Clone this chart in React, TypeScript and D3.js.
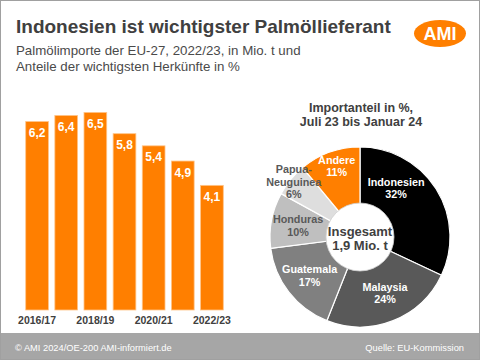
import React from "react";
import * as d3 from "d3";

const years = ["2016/17", "2017/18", "2018/19", "2019/20", "2020/21", "2021/22", "2022/23"];
const imports = [6.2, 6.4, 6.5, 5.8, 5.4, 4.9, 4.1];
const tickYears = ["2016/17", "2018/19", "2020/21", "2022/23"];

const origins = ["Indonesien", "Malaysia", "Guatemala", "Honduras", "Papua-\nNeuguinea", "Andere"];
const shares = [32, 24, 17, 10, 6, 11];
const sliceColors = ["#000000", "#595959", "#808080", "#bfbfbf", "#dedede", "#ff7f00"];
const labelColors = ["#ffffff", "#ffffff", "#ffffff", "#595959", "#595959", "#ffffff"];
const labelOffsets: [number, number][] = [[-14.5, -17], [3, 0], [-3, 1.5], [-3, -0.5], [-20, -17], [-3, -14.5]];

const FONT = "'Liberation Sans', Arial, sans-serif";
const W = 480, H = 360;
const ORANGE = "#ff7f00";
const TXT = "#404040";

export default function App() {
  const x = d3.scaleBand<string>().domain(years).range([22.5, 226.5]).paddingInner(0.22).paddingOuter(0.11);
  const y = d3.scaleLinear().domain([0, 7]).range([310, 310 - 7 * 30.4]);

  const cx = 360, cy = 237, rOuter = 90, rInner = 34;
  const pie = d3.pie<number>().sort(null).value((d) => d);
  const arcs = pie(shares);
  const arc = d3.arc<d3.PieArcDatum<number>>().innerRadius(0).outerRadius(rOuter);
  const labelArc = d3.arc<d3.PieArcDatum<number>>().innerRadius(60).outerRadius(60);

  return (
    <svg width={W} height={H} style={{ position: "absolute", left: 0, top: 0 }} fontFamily={FONT}>
      <rect x={0} y={0} width={W} height={H} fill="#ffffff" />
      {/* Title */}
      <text x={16} y={33} fontSize={19} fontWeight="bold" fill={TXT}>Indonesien ist wichtigster Palmöllieferant</text>
      <text x={16} y={55} fontSize={13.3} fill="#4a4a4a">Palmölimporte der EU-27, 2022/23, in Mio. t und</text>
      <text x={16} y={71} fontSize={13.3} fill="#4a4a4a">Anteile der wichtigsten Herkünfte in %</text>
      {/* Logo */}
      <ellipse cx={440} cy={33.5} rx={26} ry={13.5} fill={ORANGE} />
      <text x={440} y={40} fontSize={18} fontWeight="bold" fill="#ffffff" textAnchor="middle">AMI</text>

      {/* Bars */}
      {years.map((yr, i) => (
        <g key={yr}>
          <rect x={x(yr)} y={y(imports[i])} width={x.bandwidth()} height={y(0) - y(imports[i])} fill={ORANGE} stroke="#ffc58a" strokeWidth={0.8} />
          <text x={(x(yr) as number) + x.bandwidth() / 2} y={y(imports[i]) + 15.5} fontSize={12} fontWeight="bold" fill="#ffffff" textAnchor="middle">
            {imports[i].toFixed(1).replace(".", ",")}
          </text>
        </g>
      ))}
      {tickYears.map((yr) => (
        <text key={yr} x={(x(yr) as number) + x.bandwidth() / 2} y={323.5} fontSize={10.5} fontWeight="bold" fill={TXT} textAnchor="middle">{yr}</text>
      ))}

      {/* Pie title */}
      <text x={361} y={111.5} fontSize={12.5} fontWeight="bold" fill={TXT} textAnchor="middle">Importanteil in %,</text>
      <text x={361} y={125.5} fontSize={12.5} fontWeight="bold" fill={TXT} textAnchor="middle">Juli 23 bis Januar 24</text>

      {/* Pie */}
      <g transform={`translate(${cx},${cy})`}>
        {arcs.map((a, i) => (
          <path key={i} d={arc(a) as string} fill={sliceColors[i]} stroke="#ffffff" strokeWidth={1.2} />
        ))}
        <circle r={rInner} fill="#ffffff" stroke="#d0d0d0" strokeWidth={0.8} />
        <text y={-1} fontSize={13} fill={TXT} textAnchor="middle" fontWeight={600}>Insgesamt</text>
        <text y={12.5} fontSize={13} fill={TXT} textAnchor="middle" fontWeight={600}>1,9 Mio. t</text>
        {arcs.map((a, i) => {
          const [lx, ly] = labelArc.centroid(a);
          const lines = origins[i].split("\n").concat([`${shares[i]}%`]);
          const px = lx + labelOffsets[i][0];
          const py = ly + labelOffsets[i][1];
          const lh = 12.5;
          const start = py - ((lines.length - 1) * lh) / 2 + 4;
          return (
            <text key={i} fontSize={10.8} fontWeight="bold" fill={labelColors[i]} textAnchor="middle">
              {lines.map((t, j) => (
                <tspan key={j} x={px} y={start + j * lh}>{t}</tspan>
              ))}
            </text>
          );
        })}
      </g>

      {/* Footer */}
      <rect x={0} y={333} width={W} height={H - 333} fill="#a6a6a6" />
      <text x={15} y={350.5} fontSize={9.3} fill="#ffffff">© AMI 2024/OE-200 AMI-informiert.de</text>
      <text x={464} y={350.5} fontSize={9.3} fill="#ffffff" textAnchor="end">Quelle: EU-Kommission</text>
      <rect x={0.5} y={0.5} width={W - 1} height={H - 1} fill="none" stroke="#a0a0a0" strokeWidth={1} />
    </svg>
  );
}
